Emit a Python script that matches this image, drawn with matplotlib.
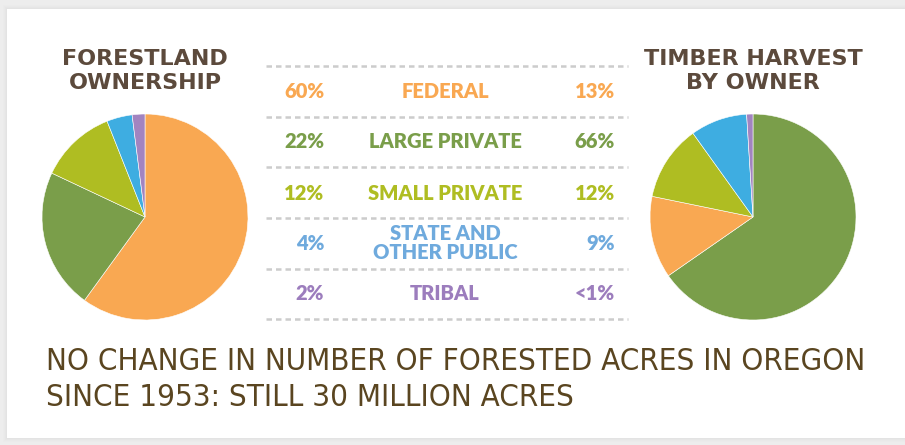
import matplotlib.pyplot as plt
from matplotlib.patches import Rectangle

# datos
categorias = ["FEDERAL", "LARGE PRIVATE", "SMALL PRIVATE", "STATE AND\nOTHER PUBLIC", "TRIBAL"]
tierra = [60, 22, 12, 4, 2]
cosecha = [13, 66, 12, 9, 1]
tierra_txt = ["60%", "22%", "12%", "4%", "2%"]
cosecha_txt = ["13%", "66%", "12%", "9%", "<1%"]

colores = ["#F9A852", "#7A9E4A", "#AFBD22", "#3EADE1", "#A284C0"]
colores_txt = ["#F9A852", "#7A9E4A", "#AFBD22", "#6FAADD", "#9C7DBD"]
marron = "#5C4A3C"

W, H = 905, 445
fig = plt.figure(figsize=(W / 100, H / 100), dpi=100)
fig.patch.set_facecolor("#ededed")

# lienzo en pixeles
bg = fig.add_axes([0, 0, 1, 1])
bg.set_xlim(0, W)
bg.set_ylim(H, 0)
bg.axis("off")
for i, a in enumerate([0.04, 0.04, 0.05, 0.06]):
    bg.add_patch(Rectangle((7 - 4 + i, 9 - 4 + i), W, 429 + 8 - 2 * i, color="#bbbbbb", alpha=a, lw=0))
bg.add_patch(Rectangle((7, 9), W, 429, color="white", lw=0))

# tabla central
filas_y = [92, 142, 193, 243, 294]
lineas_y = [66, 117, 167, 218, 269, 319]
for y in lineas_y:
    bg.plot([266, 628], [y, y], color="#cccccc", lw=1.8, ls=(0, (2.2, 1.6)))

fuente = dict(family="Lato", weight="heavy", fontsize=14.5)
for k in range(5):
    y = filas_y[k]
    bg.text(324, y, tierra_txt[k], ha="right", va="center", color=colores_txt[k], **fuente)
    bg.text(445, y, categorias[k], ha="center", va="center", color=colores_txt[k],
            linespacing=0.95, **fuente)
    bg.text(615, y, cosecha_txt[k], ha="right", va="center", color=colores_txt[k], **fuente)

# titulos
tit = dict(family="DejaVu Sans", weight="bold", fontsize=16, color=marron,
           ha="center", va="center", linespacing=1.3)
bg.text(145, 71, "FORESTLAND\nOWNERSHIP", **tit)
bg.text(753, 71, "TIMBER HARVEST\nBY OWNER", **tit)

# texto inferior
abajo = dict(ha="left", va="center", family="DejaVu Sans", stretch="condensed",
             fontsize=22.4, color="#5A4520")
bg.text(46, 361, "NO CHANGE IN NUMBER OF FORESTED ACRES IN OREGON", **abajo)
bg.text(46, 397, "SINCE 1953: STILL 30 MILLION ACRES", **abajo)

# tartas
def tarta(cx, cy, r, valores, cols):
    ax = fig.add_axes([(cx - r) / W, (H - cy - r) / H, 2 * r / W, 2 * r / H])
    ax.pie(valores, colors=cols, startangle=90, counterclock=False,
           wedgeprops=dict(linewidth=0.4, edgecolor="white"))
    ax.set_xlim(-1, 1)
    ax.set_ylim(-1, 1)
    ax.axis("off")

tarta(145, 217, 103, tierra, colores)
orden = [1, 0, 2, 3, 4]
tarta(753, 217, 103, [cosecha[i] for i in orden], [colores[i] for i in orden])

fig.savefig("out.png", dpi=100, facecolor=fig.get_facecolor())
